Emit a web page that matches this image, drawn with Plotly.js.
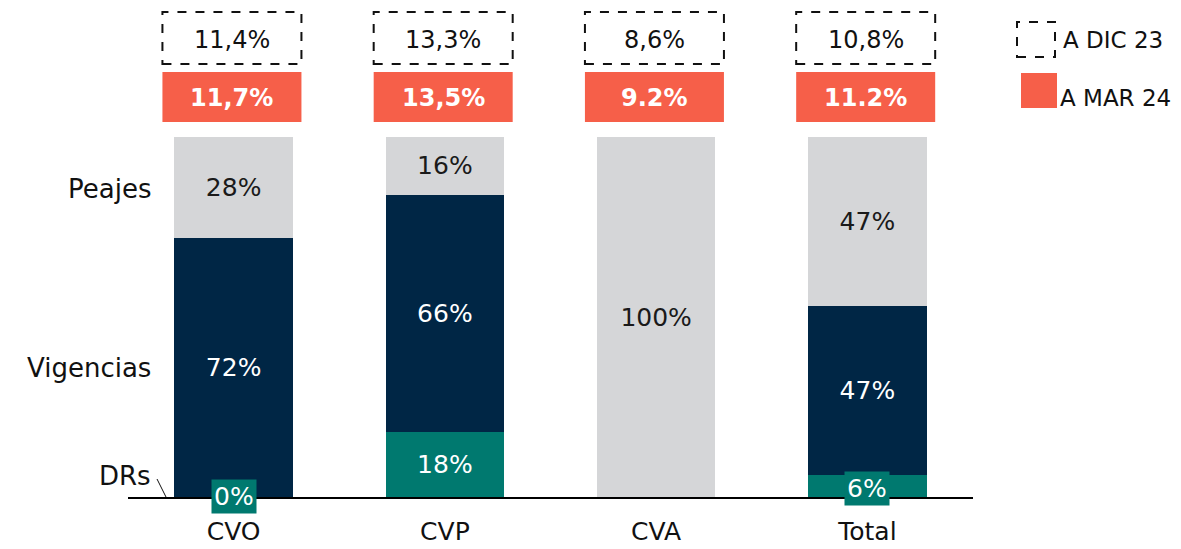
<!DOCTYPE html>
<html>
<head>
<meta charset="utf-8">
<script src="https://cdn.plot.ly/plotly-3.0.1.min.js"></script>
<style>html,body{margin:0;padding:0;background:#fff;}#chart{width:1181px;height:549px;}</style>
</head>
<body>
<div id="chart"></div>
<script>
const categories = ['CVO', 'CVP', 'CVA', 'Total'];
const drs = [0, 18, 0, 6];
const vigencias = [72, 66, 0, 47];
const peajes = [28, 16, 100, 47];
const dic23 = ['11,4%', '13,3%', '8,6%', '10,8%'];
const mar24 = ['11,7%', '13,5%', '9.2%', '11.2%'];
const seriesNames = ['DRs', 'Vigencias', 'Peajes'];
const legendNames = ['A DIC 23', 'A MAR 24'];

const FONT = 'DejaVu Sans, sans-serif';
const C_GRAY = '#D5D6D8', C_NAVY = '#002645', C_TEAL = '#00796F', C_ORANGE = '#F65F49';

// plot geometry: plot bottom at 497px, 100% at 137px
const PLOT_H = 497;
const PX_PER_UNIT = 3.6;
const yTop = PLOT_H / PX_PER_UNIT;
const py = p => (PLOT_H - p) / PX_PER_UNIT; // pixel -> data y

function pct(arr) {
  return arr.map(v => (v > 0 ? v + '%' : ''));
}

const VAL_SIZE = 25;
const barW = 0.56;
const traces = [
  {
    type: 'bar', name: seriesNames[0], x: categories, y: drs,
    marker: {color: C_TEAL}, width: barW,
    text: drs.map(v => (v >= 10 ? v + '%' : '')), textposition: 'inside', insidetextanchor: 'middle',
    textfont: {color: '#ffffff', size: VAL_SIZE, family: FONT}, hoverinfo: 'skip'
  },
  {
    type: 'bar', name: seriesNames[1], x: categories, y: vigencias,
    marker: {color: C_NAVY}, width: barW,
    text: pct(vigencias), textposition: 'inside', insidetextanchor: 'middle',
    textfont: {color: '#ffffff', size: VAL_SIZE, family: FONT}, hoverinfo: 'skip'
  },
  {
    type: 'bar', name: seriesNames[2], x: categories, y: peajes,
    marker: {color: C_GRAY}, width: barW,
    text: pct(peajes), textposition: 'inside', insidetextanchor: 'middle',
    textfont: {color: '#1a1a1a', size: VAL_SIZE, family: FONT}, hoverinfo: 'skip'
  }
];

const shapes = [];
const annotations = [];
const boxHalf = 0.329;
categories.forEach((c, i) => {
  shapes.push({type: 'rect', xref: 'x', yref: 'y', x0: i - boxHalf - 0.008, x1: i + boxHalf - 0.008,
    y0: py(64), y1: py(12), line: {color: '#111', width: 2, dash: 'dash'}, fillcolor: 'rgba(0,0,0,0)'});
  shapes.push({type: 'rect', xref: 'x', yref: 'y', x0: i - boxHalf - 0.008, x1: i + boxHalf - 0.008,
    y0: py(122), y1: py(72), line: {width: 0}, fillcolor: C_ORANGE});
  annotations.push({x: i - 0.008, y: py(40), xref: 'x', yref: 'y', text: dic23[i], showarrow: false,
    font: {size: 24, color: '#111', family: FONT}});
  annotations.push({x: i - 0.008, y: py(98), xref: 'x', yref: 'y', text: '<b>' + mar24[i] + '</b>', showarrow: false,
    font: {size: 24, color: '#ffffff', family: FONT}});
});

// small DR labels with teal boxes (CVO, Total)
categories.forEach((c, i) => {
  if (drs[i] < 10 && (drs[i] > 0 || vigencias[i] > 0)) {
    annotations.push({x: c, y: drs[i] > 0 ? drs[i] / 2 : 0.01, yshift: drs[i] > 0 ? -2 : 0, xref: 'x', yref: 'y',
      text: drs[i] + '%', showarrow: false, bgcolor: C_TEAL, borderpad: 2,
      font: {size: VAL_SIZE, color: '#ffffff', family: FONT}});
  }
});

// left series labels
const pxToPaperX = p => (p - 128) / 845;
const LBL = 26;
annotations.push({x: pxToPaperX(153), y: py(189), xref: 'paper', yref: 'y', xanchor: 'right', text: seriesNames[2],
  showarrow: false, font: {size: LBL, color: '#111', family: FONT}});
annotations.push({x: pxToPaperX(153), y: py(368), xref: 'paper', yref: 'y', xanchor: 'right', text: seriesNames[1],
  showarrow: false, font: {size: LBL, color: '#111', family: FONT}});
annotations.push({x: pxToPaperX(153), y: py(476), xref: 'paper', yref: 'y', xanchor: 'right', text: seriesNames[0],
  showarrow: false, font: {size: LBL, color: '#111', family: FONT}});
shapes.push({type: 'line', xref: 'paper', yref: 'y', x0: pxToPaperX(157), x1: pxToPaperX(166), y0: py(479), y1: py(497),
  line: {color: '#111', width: 1}});

// legend
shapes.push({type: 'rect', xref: 'paper', yref: 'y', x0: pxToPaperX(1017), x1: pxToPaperX(1055), y0: py(57), y1: py(22),
  line: {color: '#111', width: 2, dash: 'dash'}, fillcolor: 'rgba(0,0,0,0)'});
shapes.push({type: 'rect', xref: 'paper', yref: 'y', x0: pxToPaperX(1021), x1: pxToPaperX(1057), y0: py(108), y1: py(73),
  line: {width: 0}, fillcolor: C_ORANGE});
annotations.push({x: pxToPaperX(1061), y: py(40), xref: 'paper', yref: 'y', xanchor: 'left', text: legendNames[0],
  showarrow: false, font: {size: 23, color: '#111', family: FONT}});
annotations.push({x: pxToPaperX(1058), y: py(98), xref: 'paper', yref: 'y', xanchor: 'left', text: legendNames[1],
  showarrow: false, font: {size: 23, color: '#111', family: FONT}});

const layout = {
  width: 1181, height: 549,
  margin: {l: 128, r: 208, t: 0, b: 52, pad: 0},
  paper_bgcolor: '#ffffff', plot_bgcolor: '#ffffff',
  barmode: 'stack', bargap: 0.44,
  showlegend: false,
  font: {family: FONT, color: '#111'},
  xaxis: {
    type: 'category', range: [-0.5, 3.5], showline: true, linecolor: '#000', linewidth: 2,
    ticks: '', showgrid: false, zeroline: false, fixedrange: true,
    tickfont: {size: 25, color: '#111', family: FONT}, ticklabelstandoff: 11
  },
  yaxis: {range: [0, yTop], visible: false, showgrid: false, zeroline: false, fixedrange: true},
  shapes: shapes,
  annotations: annotations
};

Plotly.newPlot('chart', traces, layout, {displayModeBar: false, staticPlot: true});
</script>
</body>
</html>
